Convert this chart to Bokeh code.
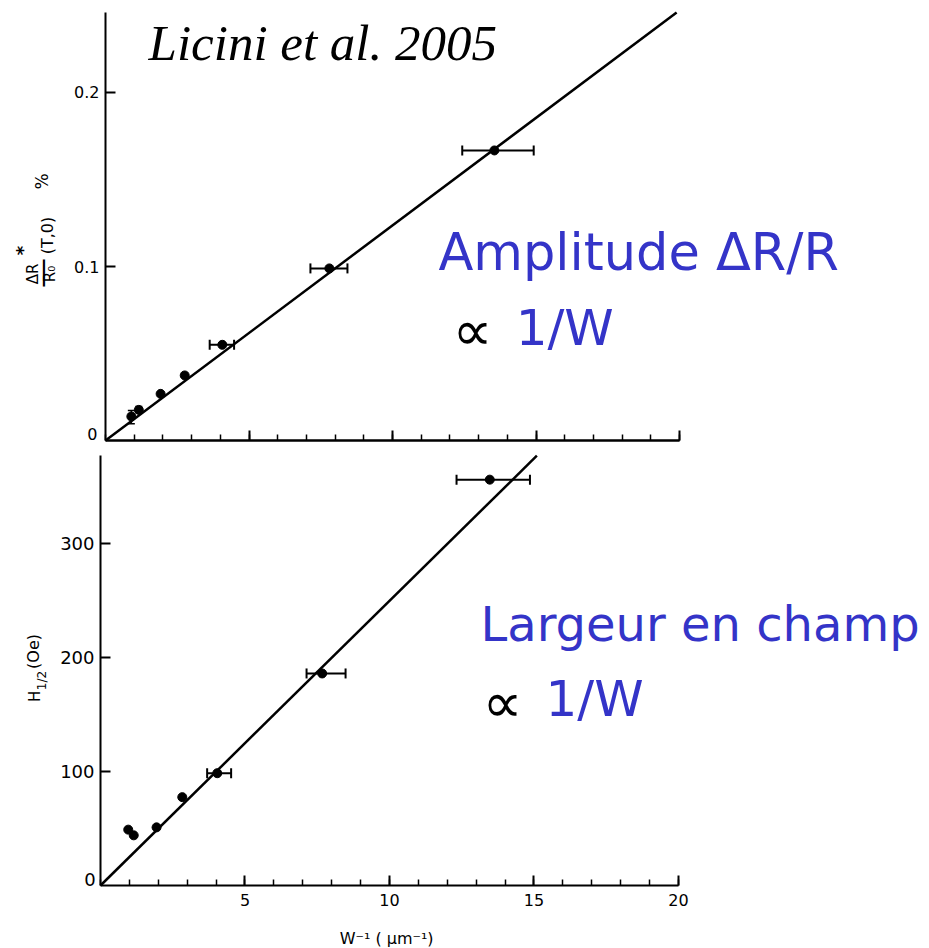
import numpy as np
from bokeh.plotting import figure
from bokeh.layouts import column
from bokeh.models import (ColumnDataSource, Whisker, TeeHead, Label, FixedTicker,
                          Range1d, LinearAxis)
from bokeh.embed import file_html
from bokeh.resources import INLINE

# --- Amplitude of the magnetoresistance dip vs inverse wire width ---
amp_x = [0.90, 1.16, 1.92, 2.76, 4.07, 7.80, 13.55]          # W^-1 (um^-1)
amp_y = [0.0138, 0.0176, 0.0268, 0.0374, 0.0550, 0.0989, 0.1667]  # dR*/R0 (%)
amp_xerr_idx = [4, 5, 6]
amp_xerr_lo = [3.63, 7.14, 12.43]
amp_xerr_hi = [4.48, 8.43, 14.92]
amp_yerr_idx = [0, 1]
amp_yerr_lo = [0.0096, 0.0160]
amp_yerr_hi = [0.0172, 0.0195]
amp_fit_x = [0.0, 19.9]
amp_fit_y = [0.0, 0.246]

# --- Half width in field vs inverse wire width ---
h_x = [0.96, 1.15, 1.94, 2.83, 4.04, 7.67, 13.47]
h_y = [49.0, 44.0, 51.0, 77.5, 98.5, 186.0, 356.0]           # H_1/2 (Oe)
h_xerr_idx = [4, 5, 6]
h_xerr_lo = [3.69, 7.13, 12.32]
h_xerr_hi = [4.52, 8.48, 14.86]
h_fit_x = [0.0, 15.1]
h_fit_y = [0.0, 377.0]

x_major = [5, 10, 15, 20]
x_minor = list(range(0, 21))
amp_y_ticks = [0.1, 0.2]
h_y_ticks = [100, 200, 300]

W = 929
TICK_FONT = "DejaVu Sans"
BLUE = "#3434c8"


def tune_axis(ax, bounds):
    ax.fixed_location = 0
    ax.bounds = bounds
    ax.axis_line_width = 2
    ax.axis_line_color = "black"
    ax.major_tick_in = 10
    ax.major_tick_out = 0
    ax.major_tick_line_width = 2
    ax.minor_tick_in = 6
    ax.minor_tick_out = 0
    ax.minor_tick_line_width = 1.5
    ax.major_label_text_font = TICK_FONT
    ax.major_label_text_color = "black"


def base_style(p):
    p.grid.visible = False
    p.outline_line_color = None
    p.background_fill_color = "white"
    p.border_fill_color = "white"


def add_points(p, xs, ys, xerr_idx, xlo, xhi):
    src = ColumnDataSource(dict(x=xs, y=ys))
    p.scatter("x", "y", source=src, marker="circle", size=9,
              fill_color="black", line_color="black")
    esrc = ColumnDataSource(dict(y=[ys[i] for i in xerr_idx], lo=xlo, hi=xhi))
    p.add_layout(Whisker(source=esrc, base="y", lower="lo", upper="hi",
                         dimension="width", line_width=2, line_color="black",
                         lower_head=TeeHead(size=10, line_width=2),
                         upper_head=TeeHead(size=10, line_width=2)))


def txt(p, x, y, text, size, color="black", font=TICK_FONT, align="left",
        angle=0.0, style="normal"):
    p.add_layout(Label(x=x, y=y, text=text, text_font=font,
                       text_font_size=f"{size}px", text_color=color,
                       text_align=align, text_baseline="middle",
                       angle=angle, text_font_style=style))


rot = np.pi / 2

# ---------------- top panel ----------------
top = figure(width=W, height=447, output_backend="svg", toolbar_location=None,
             x_range=Range1d(-3.659, 28.711), y_range=Range1d(-0.00402, 0.25287),
             min_border=0)
base_style(top)
tune_axis(top.xaxis[0], (0, 20))
tune_axis(top.yaxis[0], (0, 0.246))
# unlabelled x axis: integer ticks, plus longer ticks every 5
top.xaxis[0].ticker = FixedTicker(ticks=[], minor_ticks=x_minor)
long_ticks = LinearAxis(ticker=FixedTicker(ticks=[], minor_ticks=x_major))
tune_axis(long_ticks, (0, 20))
long_ticks.minor_tick_in = 10
long_ticks.minor_tick_line_width = 2
top.add_layout(long_ticks, "below")
top.yaxis.ticker = FixedTicker(ticks=amp_y_ticks)
top.yaxis.major_label_text_font_size = "16px"
top.yaxis.major_label_standoff = 6

top.line(amp_fit_x, amp_fit_y, line_width=2.5, line_color="black")
add_points(top, amp_x, amp_y, amp_xerr_idx, amp_xerr_lo, amp_xerr_hi)
vsrc = ColumnDataSource(dict(x=[amp_x[i] for i in amp_yerr_idx],
                             lo=amp_yerr_lo, hi=amp_yerr_hi))
top.add_layout(Whisker(source=vsrc, base="x", lower="lo", upper="hi",
                       dimension="height", line_width=1.5, line_color="black",
                       lower_head=TeeHead(size=7, line_width=1.5),
                       upper_head=TeeHead(size=7, line_width=1.5)))

txt(top, -0.28, 0.0035, "0", 16, align="right")
# rotated fraction label  ΔR*/R0 (T,0) %
txt(top, -2.54, 0.0957, "ΔR", 15, align="center", angle=rot)
txt(top, -2.89, 0.1092, "*", 18, align="center", angle=rot, style="bold")
txt(top, -2.23, 0.0963, "—", 30, align="center", angle=rot)
txt(top, -1.92, 0.0957, "R₀", 15, align="center", angle=rot)
txt(top, -2.02, 0.1178, "(T,0)", 16, align="center", angle=rot)
txt(top, -2.23, 0.1489, "%", 17, align="center", angle=rot)

txt(top, 1.50, 0.2284, "Licini et al. 2005", 51, font="Liberation Serif",
    style="italic")
txt(top, 11.60, 0.1078, "Amplitude ΔR/R", 51, color=BLUE)
txt(top, 12.09, 0.0632, "∝", 56)
txt(top, 14.29, 0.0649, "1/W", 50, color=BLUE)

# ---------------- bottom panel ----------------
bot = figure(width=W, height=501, output_backend="svg", toolbar_location=None,
             x_range=Range1d(-3.460, 28.685), y_range=Range1d(-55.26, 384.2),
             min_border=0)
base_style(bot)
tune_axis(bot.xaxis[0], (0, 20))
tune_axis(bot.yaxis[0], (0, 377))
bot.xaxis.ticker = FixedTicker(ticks=x_major, minor_ticks=x_minor)
bot.xaxis.major_label_text_font_size = "16px"
bot.xaxis.major_label_standoff = 8
bot.yaxis.ticker = FixedTicker(ticks=h_y_ticks)
bot.yaxis.major_label_text_font_size = "18px"
bot.yaxis.major_label_standoff = 6

bot.line(h_fit_x, h_fit_y, line_width=2.5, line_color="black")
add_points(bot, h_x, h_y, h_xerr_idx, h_xerr_lo, h_xerr_hi)

txt(bot, -0.17, 5.3, "0", 18, align="right")
txt(bot, -2.25, 165.8, "H", 15, align="center", angle=rot)
txt(bot, -2.04, 179.8, "1/2", 12, align="center", angle=rot)
txt(bot, -2.32, 205.3, "(Oe)", 16, align="center", angle=rot)
txt(bot, 9.90, -46.5, "W⁻¹ ( μm⁻¹)", 16, align="center")

txt(bot, 13.15, 229.0, "Largeur en champ", 48, color=BLUE)
txt(bot, 13.22, 160.5, "∝", 56)
txt(bot, 15.40, 163.6, "1/W", 50, color=BLUE)

layout = column(top, bot, spacing=0)
open("out.html", "w").write(file_html(layout, INLINE))
